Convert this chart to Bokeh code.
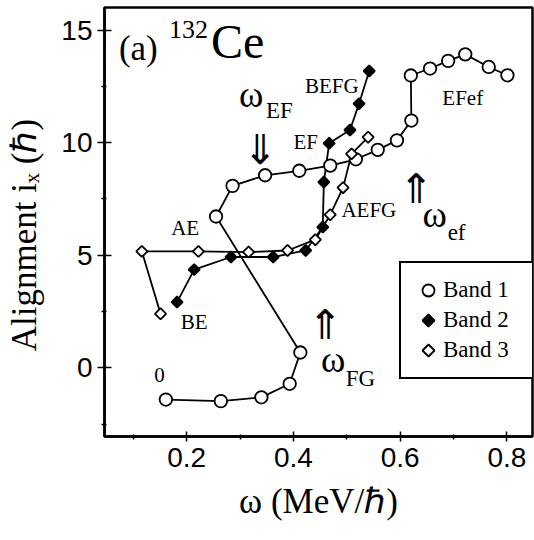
import math
from bokeh.plotting import figure
from bokeh.models import Range1d, FixedTicker, Legend, LegendItem, ColumnDataSource
from bokeh.core.properties import value
from bokeh.embed import file_html
from bokeh.resources import INLINE

# ---- data (rotational frequency omega in MeV/hbar, alignment i_x in hbar) ----
band1_w = [0.161, 0.264, 0.340, 0.393, 0.413, 0.255, 0.286, 0.347, 0.411, 0.469,
           0.517, 0.558, 0.594, 0.621, 0.620, 0.656, 0.690, 0.722, 0.766, 0.801]
band1_i = [-1.41, -1.48, -1.31, -0.71, 0.68, 6.72, 8.08, 8.55, 8.75, 8.98,
           9.26, 9.68, 10.10, 10.98, 12.98, 13.29, 13.63, 13.92, 13.36, 12.99]
band2_w = [0.182, 0.214, 0.283, 0.362, 0.423, 0.455, 0.457, 0.467, 0.506, 0.523, 0.542]
band2_i = [2.92, 4.36, 4.92, 4.92, 5.21, 6.25, 8.25, 9.97, 10.56, 11.73, 13.18]
band3_w = [0.151, 0.116, 0.222, 0.316, 0.389, 0.441, 0.469, 0.493, 0.509, 0.540]
band3_i = [2.40, 5.17, 5.17, 5.14, 5.21, 5.69, 6.80, 8.00, 9.50, 10.24]

series_names = ["Band 1", "Band 2", "Band 3"]

x_ticks = [0.2, 0.4, 0.6, 0.8]
x_tick_labels = ["0.2", "0.4", "0.6", "0.8"]
x_minor = [0.1, 0.3, 0.5, 0.7]
y_ticks = [0, 5, 10, 15]
y_tick_labels = ["0", "5", "10", "15"]
y_minor = [-2.5, 2.5, 7.5, 12.5]

# configuration labels
cfg_text = ["0", "BE", "AE", "AEFG", "EF", "BEFG", "EFef"]
cfg_x = [0.139, 0.189, 0.171, 0.490, 0.400, 0.4215, 0.679]
cfg_y = [-0.65, 1.48, 5.66, 6.46, 9.48, 11.97, 11.44]

# crossing frequencies: omega symbol + subscript
om_x = [0.298, 0.642, 0.4515]
om_y = [11.21, 5.88, -0.56]
om_sub = ["EF", "ef", "FG"]
om_sub_x = [0.3485, 0.689, 0.498]
om_sub_y = [10.86, 5.44, -1.01]

arrow_text = ["\u21d3", "\u21d1", "\u21d1"]
arrow_x = [0.337, 0.629, 0.459]
arrow_y = [9.84, 8.10, 2.10]

SERIF = "Liberation Serif"
LW = 1.8

p = figure(width=534, height=540, output_backend="svg", toolbar_location=None,
           x_range=Range1d(0.046, 0.848), y_range=Range1d(-3.05, 16.0),
           min_border_left=104, min_border_right=2, min_border_top=7,
           min_border_bottom=104)
p.background_fill_color = "white"
p.border_fill_color = "white"
p.outline_line_color = "black"
p.outline_line_width = 2.5
p.outline_line_alpha = 1.0
p.xgrid.visible = False
p.ygrid.visible = False

# axes
for ax in (p.xaxis[0], p.yaxis[0]):
    ax.axis_line_width = 2.5
    ax.axis_line_color = "black"
    ax.major_tick_line_width = 1.5
    ax.minor_tick_line_width = 1.5
    ax.major_tick_line_color = "black"
    ax.minor_tick_line_color = "black"
    ax.major_label_text_font = "Liberation Sans"
    ax.major_label_text_font_size = "28px"
    ax.major_label_text_color = "black"
    ax.axis_label_text_font = SERIF
    ax.axis_label_text_font_size = "35px"
    ax.axis_label_text_font_style = "normal"
    ax.axis_label_text_color = "black"

p.xaxis.ticker = FixedTicker(ticks=x_ticks, minor_ticks=x_minor)
p.xaxis.major_label_overrides = dict(zip(x_ticks, x_tick_labels))
p.xaxis.major_tick_in = 5
p.xaxis.major_tick_out = 5
p.xaxis.minor_tick_in = 2
p.xaxis.minor_tick_out = 3
p.xaxis.major_label_standoff = 6
p.xaxis.axis_label = "\u03c9 (MeV/\u210f)"
p.xaxis.axis_label_standoff = 12

p.yaxis.ticker = FixedTicker(ticks=y_ticks, minor_ticks=y_minor)
p.yaxis.major_label_overrides = dict(zip(y_ticks, y_tick_labels))
p.yaxis.major_tick_in = 7
p.yaxis.major_tick_out = 7
p.yaxis.minor_tick_in = 2
p.yaxis.minor_tick_out = 3
p.yaxis.major_label_standoff = 5
p.yaxis.axis_label = "Alignment i\u2093 (\u210f)\u00a0\u00a0\u00a0"
p.yaxis.axis_label_standoff = 14

# lines
p.line(band1_w, band1_i, line_color="black", line_width=LW)
p.line(band2_w, band2_i, line_color="black", line_width=LW)
p.line(band3_w, band3_i, line_color="black", line_width=LW)

# markers
r1 = p.scatter(band1_w, band1_i, marker="circle", size=12.5, fill_color="white",
               line_color="black", line_width=LW)


def diamonds(xs, ys, fill):
    try:
        from bokeh.models import Ngon
        src = ColumnDataSource(dict(x=xs, y=ys))
        g = Ngon(x="x", y="y", radius=5.6, radius_units="screen", n=4,
                 fill_color=fill, line_color="black", line_width=LW)
        return p.add_glyph(src, g)
    except Exception:
        return p.scatter(xs, ys, marker="square", angle=math.pi / 4, size=8.5,
                         fill_color=fill, line_color="black", line_width=LW)


r2 = diamonds(band2_w, band2_i, "black")
r3 = diamonds(band3_w, band3_i, "white")

# title inside the frame: (a) 132Ce
p.text(x=[0.073], y=[13.30], text=["(a)"], text_font=value(SERIF),
       text_font_size=value("35px"), text_color="black")
p.text(x=[0.167], y=[14.64], text=["132"], text_font=value(SERIF),
       text_font_size=value("26px"), text_color="black")
p.text(x=[0.2455], y=[13.30], text=["Ce"], text_font=value(SERIF),
       text_font_size=value("48px"), text_color="black")

# configuration labels
p.text(x=cfg_x, y=cfg_y, text=cfg_text, text_font=value(SERIF),
       text_font_size=value("21px"), text_color="black")

# omega labels
p.text(x=om_x, y=om_y, text=["\u03c9"] * len(om_x), text_font=value(SERIF),
       text_font_size=value("37px"), text_color="black")
p.text(x=om_sub_x, y=om_sub_y, text=om_sub, text_font=value(SERIF),
       text_font_size=value("23px"), text_color="black")

# double arrows
p.text(x=arrow_x, y=arrow_y, text=arrow_text, text_font=value("Noto Sans CJK JP"),
       text_font_size=value("41px"), text_color="black",
       text_align="center", text_baseline="middle")

legend = Legend(items=[LegendItem(label=series_names[0], renderers=[r1]),
                       LegendItem(label=series_names[1], renderers=[r2]),
                       LegendItem(label=series_names[2], renderers=[r3])],
                location=(295, 57))
legend.border_line_color = "black"
legend.border_line_width = 2
legend.border_line_alpha = 1.0
legend.background_fill_color = "white"
legend.background_fill_alpha = 1.0
legend.padding = 12
legend.spacing = 0
legend.margin = 0
legend.glyph_width = 30
legend.glyph_height = 30
legend.label_height = 20
legend.label_width = 80
legend.label_standoff = 0
legend.label_text_font = SERIF
legend.label_text_font_size = "23px"
legend.label_text_color = "black"
p.add_layout(legend)

open("out.html", "w").write(file_html(p, INLINE))
